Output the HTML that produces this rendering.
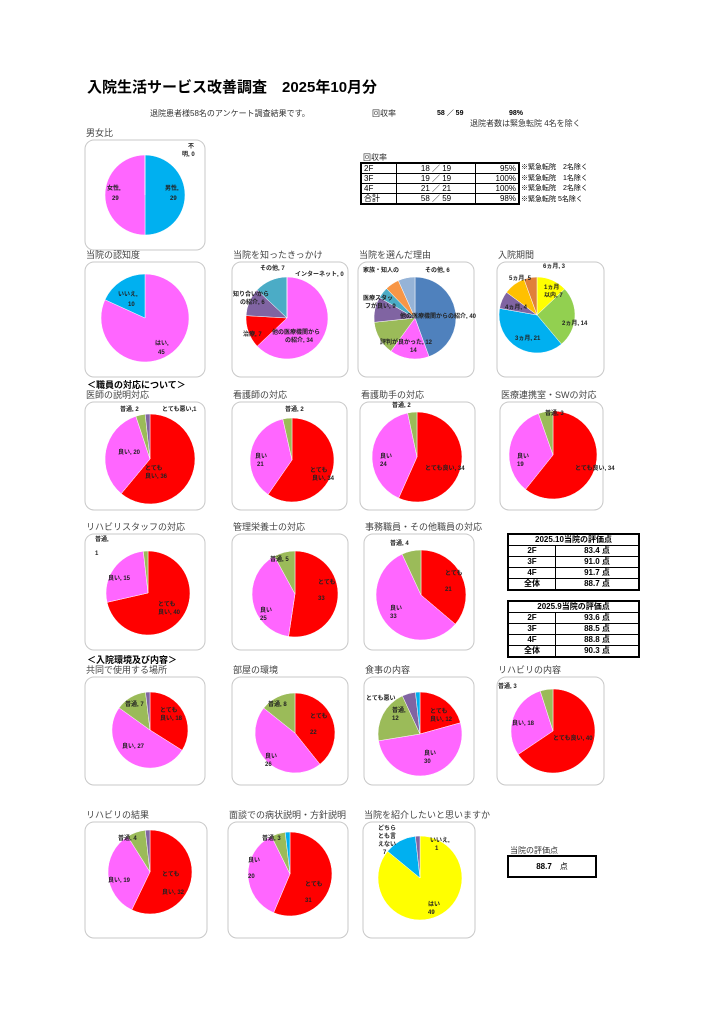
<!DOCTYPE html><html><head><meta charset="utf-8"><style>
body{margin:0;background:#fff;width:724px;height:1024px;position:relative;overflow:hidden;font-family:"Liberation Sans","Noto Sans CJK JP",sans-serif;color:#000}
.a{position:absolute;white-space:nowrap}
.t{font-size:8px;color:#333}
table{border-collapse:collapse;position:absolute;font-size:8px}
td{border:1px solid #000;padding:0 2px;height:9px;line-height:9px}
.s td{font-weight:bold;text-align:center;height:10px;line-height:10px}
</style></head><body>
<div class="a" style="left:87px;top:76px;font-size:15px;font-weight:bold">入院生活サービス改善調査　2025年10月分</div>
<div class="a t" style="left:150px;top:108px">退院患者様58名のアンケート調査結果です。</div>
<div class="a t" style="left:372px;top:108px">回収率</div>
<div class="a" style="left:437px;top:109px;font-size:7px;font-weight:bold;line-height:9px">58 ／ 59</div>
<div class="a" style="left:509px;top:109px;font-size:7px;font-weight:bold;line-height:9px">98%</div>
<div class="a t" style="left:470px;top:118px">退院者数は緊急転院 4名を除く</div>
<div class="a t" style="left:363px;top:152px">回収率</div>
<table style="left:360px;top:162px;width:160px;border:2px solid #000">
<tr><td style="width:30px">2F</td><td style="text-align:center">18 ／ 19</td><td style="text-align:right;width:38px">95%</td></tr>
<tr><td>3F</td><td style="text-align:center">19 ／ 19</td><td style="text-align:right">100%</td></tr>
<tr><td>4F</td><td style="text-align:center">21 ／ 21</td><td style="text-align:right">100%</td></tr>
<tr><td>合計</td><td style="text-align:center">58 ／ 59</td><td style="text-align:right">98%</td></tr></table>
<div class="a" style="left:521px;top:163px;font-size:7px;line-height:10.5px">※緊急転院　2名除く<br>※緊急転院　1名除く<br>※緊急転院　2名除く<br>※緊急転院 5名除く</div>
<table class="s" style="left:507px;top:533px;width:133px;border:2px solid #000">
<tr><td colspan="2">2025.10当院の評価点</td></tr>
<tr><td style="width:42px">2F</td><td>83.4 点</td></tr><tr><td>3F</td><td>91.0 点</td></tr><tr><td>4F</td><td>91.7 点</td></tr><tr><td>全体</td><td>88.7 点</td></tr></table>
<table class="s" style="left:507px;top:600px;width:133px;border:2px solid #000">
<tr><td colspan="2">2025.9当院の評価点</td></tr>
<tr><td style="width:42px">2F</td><td>93.6 点</td></tr><tr><td>3F</td><td>88.5 点</td></tr><tr><td>4F</td><td>88.8 点</td></tr><tr><td>全体</td><td>90.3 点</td></tr></table>
<div class="a t" style="left:510px;top:845px">当院の評価点</div>
<div class="a" style="left:507px;top:855px;width:86px;height:19px;border:2px solid #000;font-size:8px;font-weight:bold;line-height:19px;text-align:center">88.7　<span style="font-weight:normal">点</span></div>
<div class="a" style="left:87px;top:378px;font-size:9px;font-weight:bold">＜職員の対応について＞</div>
<div class="a" style="left:87px;top:653px;font-size:9px;font-weight:bold">＜入院環境及び内容＞</div>
<div id="c"></div>
<script>
var R='#ff0000',P='#ff66ff',G='#9bbb59',V='#8064a2',B='#00b0f0',T='#4bacc6';
var charts=[
['男女比',85,128,120,122,145,195,40,[[29,B],[29,P],[0.01,'#000']],[[165,190,'男性,'],[170,200,'29'],[107,190,'女性,'],[112,200,'29'],[188,148,'不'],[182,156,'明, 0']]],
['当院の認知度',85,250,120,127,145,318,44,[[45,P],[10,B]],[[118,296,'いいえ,'],[128,306,'10'],[155,345,'はい,'],[158,354,'45']]],
['当院を知ったきっかけ',232,250,116,127,287,318,41,[[34,P],[7,R],[6,V],[7,T],[0.01,'#000']],[[260,270,'その他, 7'],[295,276,'インターネット, 0'],[233,296,'知り合いから'],[240,304,'の紹介, 6'],[243,336,'治療, 7'],[272,334,'他の医療機関から'],[285,342,'の紹介, 34']]],
['当院を選んだ理由',358,250,116,127,415,318,41,[[40,'#4f81bd'],[14,P],[12,G],[9,V],[4,T],[5,'#f79646'],[6,'#95b3d7']],[[363,272,'家族・知人の'],[425,272,'その他, 6'],[363,300,'医療スタッ'],[365,308,'フが良い, 9'],[400,318,'他の医療機関からの紹介, 40'],[380,344,'評判が良かった, 12'],[410,352,'14']]],
['入院期間',497,250,107,127,537,315,38,[[7,'#ffff00'],[14,'#92d050'],[21,B],[4,V],[5,'#ffc000'],[3,'#e0803a']],[[544,289,'1ヵ月'],[544,297,'以内, 7'],[562,325,'2ヵ月, 14'],[515,340,'3ヵ月, 21'],[505,309,'4ヵ月, 4'],[509,280,'5ヵ月, 5'],[543,268,'6ヵ月, 3']]],
['医師の説明対応',85,390,120,120,150,459,45,[[36,R],[20,P],[2,G],[1,V]],[[145,470,'とても'],[145,478,'良い, 36'],[118,454,'良い, 20'],[120,411,'普通, 2'],[162,411,'とても悪い,1']]],
['看護師の対応',232,390,115,120,292,460,42,[[34,R],[21,P],[2,G]],[[310,472,'とても'],[312,480,'良い, 34'],[255,458,'良い'],[257,466,'21'],[285,411,'普通, 2']]],
['看護助手の対応',360,390,115,120,417,457,45,[[34,R],[24,P],[2,G]],[[425,470,'とても良い, 34'],[380,458,'良い'],[380,466,'24'],[392,407,'普通, 2']]],
['医療連携室・SWの対応',500,390,103,120,553,455,44,[[34,R],[19,P],[3,G]],[[575,470,'とても良い, 34'],[517,458,'良い'],[517,466,'19'],[545,415,'普通, 3']]],
['リハビリスタッフの対応',85,522,120,128,148,593,42,[[40,R],[15,P],[1,G]],[[158,606,'とても'],[158,614,'良い, 40'],[108,580,'良い, 15'],[95,541,'普通,'],[95,555,'1']]],
['管理栄養士の対応',232,522,116,128,295,594,43,[[33,R],[25,P],[5,G]],[[318,584,'とても'],[318,600,'33'],[260,612,'良い'],[260,620,'25'],[270,561,'普通, 5']]],
['事務職員・その他職員の対応',364,522,110,128,421,595,45,[[21,R],[33,P],[4,G]],[[445,575,'とても'],[445,591,'21'],[390,610,'良い'],[390,618,'33'],[390,545,'普通, 4']]],
['共同で使用する場所',85,665,120,120,150,730,38,[[18,R],[27,P],[7,G],[1,V]],[[160,712,'とても'],[160,720,'良い, 18'],[122,748,'良い, 27'],[125,706,'普通, 7']]],
['部屋の環境',232,665,116,120,295,733,40,[[22,R],[26,P],[8,G]],[[310,718,'とても'],[310,734,'22'],[265,758,'良い'],[265,766,'26'],[268,706,'普通, 8']]],
['食事の内容',364,665,110,120,420,734,42,[[12,R],[30,P],[12,G],[3,V],[1,B]],[[430,713,'とても'],[430,721,'良い, 12'],[424,755,'良い'],[424,763,'30'],[392,712,'普通,'],[392,720,'12'],[366,700,'とても悪い']]],
['リハビリの内容',497,665,107,120,553,731,42,[[40,R],[18,P],[3,G]],[[553,740,'とても良い, 40'],[512,725,'良い, 18'],[498,688,'普通, 3']]],
['リハビリの結果',85,810,122,128,150,872,42,[[32,R],[19,P],[4,G],[1,V]],[[162,876,'とても'],[162,894,'良い, 32'],[108,882,'良い, 19'],[118,840,'普通, 4']]],
['面談での病状説明・方針説明',228,810,120,128,290,874,42,[[31,R],[20,P],[3,G],[1,B]],[[305,886,'とても'],[305,902,'31'],[248,862,'良い'],[248,878,'20'],[262,840,'普通, 3']]],
['当院を紹介したいと思いますか',363,810,112,128,420,878,42,[[49,'#ffff00'],[7,B],[1,V]],[[428,906,'はい'],[428,914,'49'],[378,830,'どちら'],[378,838,'とも言'],[378,846,'えない'],[383,854,'7'],[430,842,'いいえ,'],[435,850,'1']]]
];
var h='<svg width="724" height="1024" style="position:absolute;left:0;top:0" xmlns="http://www.w3.org/2000/svg">';
charts.forEach(function(c){
 h+='<rect x="'+c[1]+'" y="'+(c[2]+12)+'" width="'+c[3]+'" height="'+(c[4]-12)+'" rx="9" fill="#fff" stroke="#c8c8c8"/>';
 h+='<text x="'+(c[1]+1)+'" y="'+(c[2]+8)+'" font-size="9" fill="#444">'+c[0]+'</text>';
 var tot=0;c[8].forEach(function(s){tot+=s[0]});
 var a=-Math.PI/2,cx=c[5],cy=c[6],r=c[7];
 c[8].forEach(function(s){var b=a+s[0]/tot*2*Math.PI;
  var x1=cx+r*Math.cos(a),y1=cy+r*Math.sin(a),x2=cx+r*Math.cos(b),y2=cy+r*Math.sin(b);
  h+='<path d="M'+cx+','+cy+'L'+x1.toFixed(2)+','+y1.toFixed(2)+'A'+r+','+r+' 0 '+((b-a)>Math.PI?1:0)+' 1 '+x2.toFixed(2)+','+y2.toFixed(2)+'Z" fill="'+s[1]+'" stroke="#fff" stroke-width="0.5"/>';a=b;});
 c[9].forEach(function(l){h+='<text x="'+l[0]+'" y="'+l[1]+'" font-size="6" font-weight="bold" fill="#222">'+l[2]+'</text>';});
});
h+='</svg>';
document.getElementById('c').innerHTML=h;
</script>
</body></html>
